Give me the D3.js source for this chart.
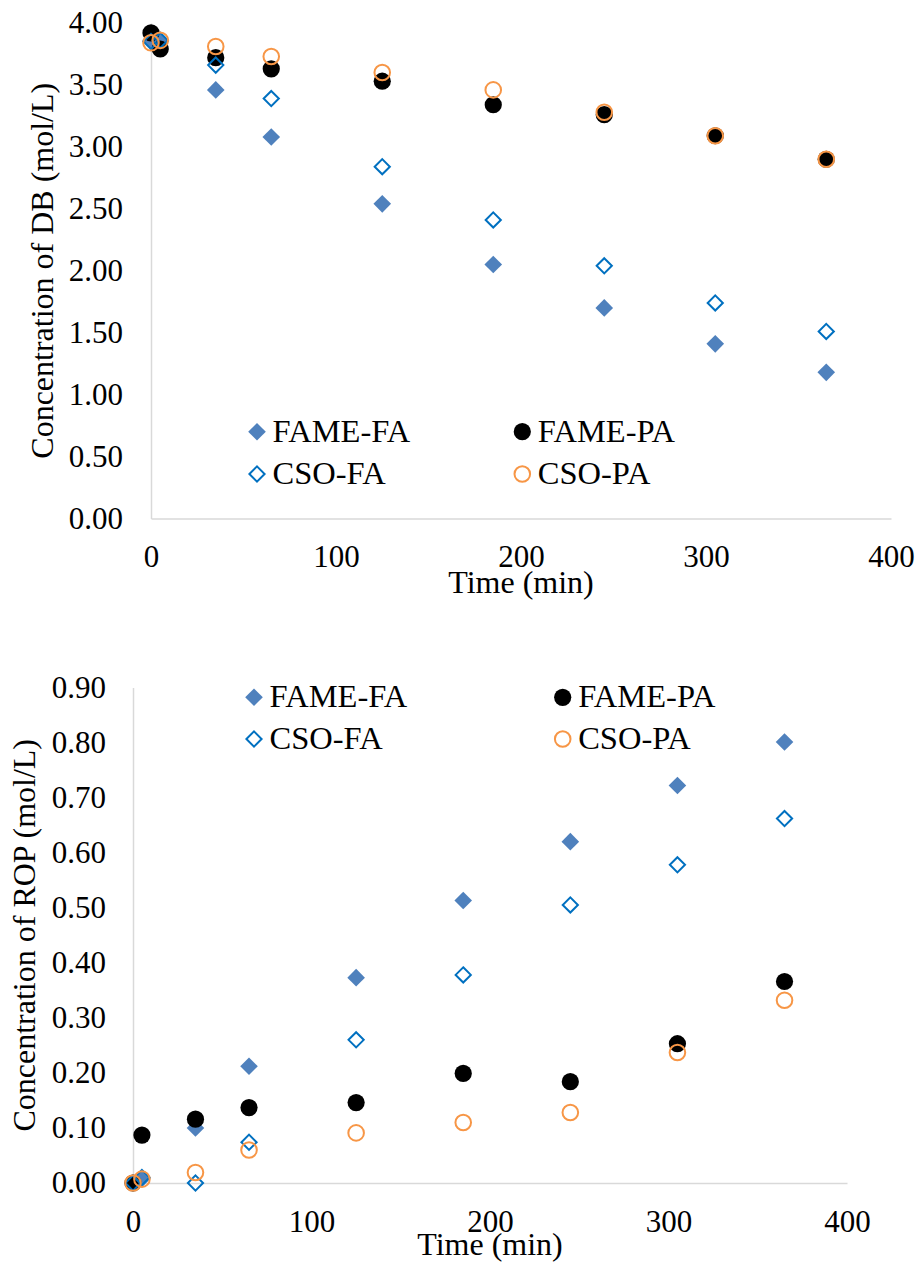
<!DOCTYPE html>
<html>
<head>
<meta charset="utf-8">
<script src="https://cdn.jsdelivr.net/npm/d3@7/dist/d3.min.js"></script>
<style>
  html, body { margin: 0; padding: 0; background: #fff; }
  svg text { font-family: "Times New Roman", "Liberation Serif", Tinos, "DejaVu Serif", serif !important; fill: #000; }
</style>
</head>
<body>
<svg id="chart" width="920" height="1265"></svg>
<script>
// ---- data ----
const times = [0, 5, 35, 65, 125, 185, 245, 305, 365];

const seriesNames = ["FAME-FA", "FAME-PA", "CSO-FA", "CSO-PA"];

// Chart 1: Concentration of DB (mol/L)
const dbFameFA = [3.86, 3.85, 3.46, 3.08, 2.54, 2.05, 1.70, 1.41, 1.18];
const dbFamePA = [3.92, 3.79, 3.72, 3.63, 3.53, 3.34, 3.26, 3.09, 2.90];
const dbCsoFA  = [3.85, 3.86, 3.66, 3.39, 2.84, 2.41, 2.04, 1.74, 1.51];
const dbCsoPA  = [3.84, 3.86, 3.81, 3.73, 3.60, 3.46, 3.28, 3.09, 2.90];

// Chart 2: Concentration of ROP (mol/L)
const ropFameFA = [0.000, 0.008, 0.100, 0.212, 0.373, 0.513, 0.620, 0.722, 0.801];
const ropFamePA = [0.000, 0.087, 0.116, 0.137, 0.146, 0.199, 0.184, 0.253, 0.366];
const ropCsoFA  = [0.000, 0.010, 0.000, 0.074, 0.260, 0.378, 0.505, 0.578, 0.662];
const ropCsoPA  = [0.000, 0.007, 0.019, 0.060, 0.091, 0.110, 0.128, 0.237, 0.332];

const xTicks = [0, 100, 200, 300, 400];
const dbTicks = [0, 0.5, 1.0, 1.5, 2.0, 2.5, 3.0, 3.5, 4.0];
const ropTicks = [0, 0.1, 0.2, 0.3, 0.4, 0.5, 0.6, 0.7, 0.8, 0.9];

// ---- styles ----
const styles = {
  "FAME-FA": { shape: "diamond", fill: "#4F81BD", stroke: "none" },
  "FAME-PA": { shape: "circle", fill: "#000000", stroke: "none" },
  "CSO-FA":  { shape: "diamond", fill: "#ffffff", stroke: "#0070C0" },
  "CSO-PA":  { shape: "circle", fill: "none", stroke: "#F79646" }
};

const svg = d3.select("#chart");
const TICK_FS = 31;
const TITLE_FS = 32;
const LEG_FS = 32.5;
const FONT = '"Times New Roman", "Liberation Serif", Tinos, "DejaVu Serif", serif';

function drawMarker(g, name, cx, cy) {
  const s = styles[name];
  if (s.shape === "circle") {
    const r = s.stroke === "none" ? 8.6 : 7.8;
    g.append("circle").attr("cx", cx).attr("cy", cy).attr("r", r)
      .attr("fill", s.fill).attr("stroke", s.stroke).attr("stroke-width", 2);
  } else {
    const h = s.stroke === "none" ? 8.8 : 7.6;
    const path = `M${cx},${cy - h}L${cx + h},${cy}L${cx},${cy + h}L${cx - h},${cy}Z`;
    g.append("path").attr("d", path)
      .attr("fill", s.stroke === "none" ? s.fill : "none")
      .attr("stroke", s.stroke).attr("stroke-width", 2);
  }
}

function drawChart(cfg) {
  const x = d3.scaleLinear().domain([0, 400]).range([cfg.left, cfg.right]);
  const y = d3.scaleLinear().domain([0, cfg.yMax]).range([cfg.bottom, cfg.top]);
  const g = svg.append("g").style("font-family", FONT);

  // Axes
  const yAxis = g.append("g").attr("transform", `translate(${cfg.left},0)`)
    .call(d3.axisLeft(y).tickValues(cfg.yTicks).tickFormat(d3.format(".2f")).tickSize(0).tickPadding(cfg.yPad));
  yAxis.attr("font-family", null).attr("font-size", null);
  yAxis.select(".domain").attr("stroke", "#d9d9d9").attr("stroke-width", 1.5);
  yAxis.selectAll("text").style("font-size", TICK_FS + "px").attr("fill", "#000");

  const xAxis = g.append("g").attr("transform", `translate(0,${cfg.bottom})`)
    .call(d3.axisBottom(x).tickValues(xTicks).tickFormat(d3.format("d")).tickSize(0));
  xAxis.attr("font-family", null).attr("font-size", null);
  xAxis.select(".domain").attr("stroke", "#d9d9d9").attr("stroke-width", 1.5);
  xAxis.selectAll("text").style("font-size", TICK_FS + "px").attr("fill", "#000")
    .attr("y", cfg.xLabelBase).attr("dy", 0);

  // Axis titles
  g.append("text").attr("x", (cfg.left + cfg.right) / 2).attr("y", cfg.xTitleY)
    .attr("text-anchor", "middle").style("font-size", TITLE_FS + "px").text("Time (min)");
  g.append("text")
    .attr("transform", `translate(${cfg.yTitleX},${(cfg.top + cfg.bottom) / 2}) rotate(-90)`)
    .attr("text-anchor", "middle").style("font-size", TITLE_FS + "px").text(cfg.yTitle);

  // Points
  seriesNames.forEach(name => {
    const vals = cfg.data[name];
    const sg = g.append("g");
    vals.forEach((v, i) => drawMarker(sg, name, x(times[i]), y(v)));
  });

  // Legend
  cfg.legend.forEach(item => {
    drawMarker(g, item.name, item.mx, item.my);
    g.append("text").attr("x", item.mx + 15.5).attr("y", item.my + 10)
      .style("font-size", LEG_FS + "px").text(item.name);
  });
}

drawChart({
  left: 151, right: 891, top: 23, bottom: 518.5, yMax: 4,
  yTicks: dbTicks, yPad: 28, xLabelBase: 48.5, xTitleY: 593,
  yTitleX: 53, yTitle: "Concentration of DB (mol/L)",
  data: { "FAME-FA": dbFameFA, "FAME-PA": dbFamePA, "CSO-FA": dbCsoFA, "CSO-PA": dbCsoPA },
  legend: [
    { name: "FAME-FA", mx: 257, my: 431.7 },
    { name: "FAME-PA", mx: 522.3, my: 431.7 },
    { name: "CSO-FA", mx: 257, my: 474 },
    { name: "CSO-PA", mx: 522.3, my: 474 }
  ]
});

drawChart({
  left: 133, right: 847, top: 687.5, bottom: 1183, yMax: 0.9,
  yTicks: ropTicks, yPad: 27, xLabelBase: 49, xTitleY: 1255,
  yTitleX: 35, yTitle: "Concentration of ROP (mol/L)",
  data: { "FAME-FA": ropFameFA, "FAME-PA": ropFamePA, "CSO-FA": ropCsoFA, "CSO-PA": ropCsoPA },
  legend: [
    { name: "FAME-FA", mx: 254, my: 697.3 },
    { name: "FAME-PA", mx: 562.7, my: 697.3 },
    { name: "CSO-FA", mx: 254, my: 739 },
    { name: "CSO-PA", mx: 562.7, my: 739 }
  ]
});
</script>
</body>
</html>
